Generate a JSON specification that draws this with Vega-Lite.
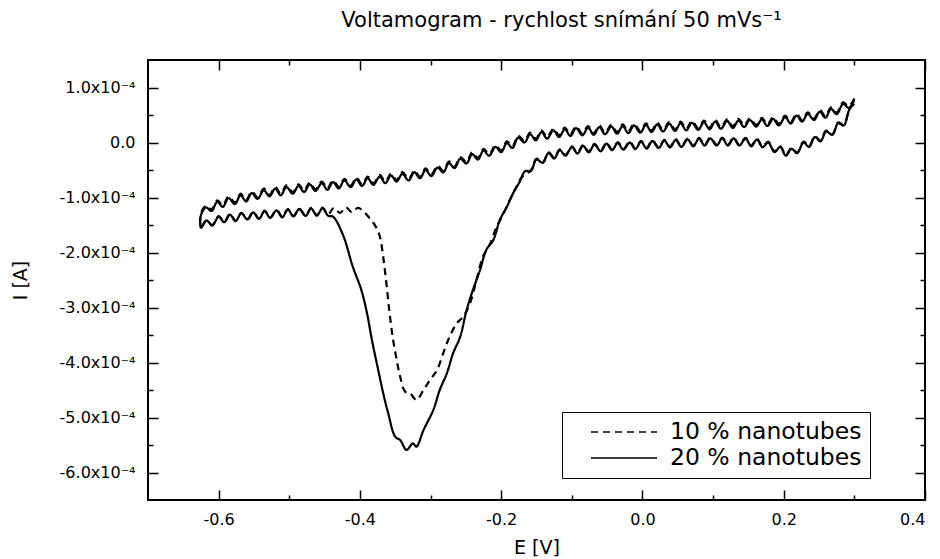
{
"$schema": "https://vega.github.io/schema/vega-lite/v6.json",
"width": 777, "height": 440,
"autosize": {"type": "none"},
"padding": {"left": 148, "top": 60, "right": 15, "bottom": 59},
"background": "white",
"config": {
 "view": {"stroke": "black", "strokeWidth": 2},
 "font": "DejaVu Sans",
 "axis": {"labelFont": "DejaVu Sans", "titleFont": "DejaVu Sans", "labelColor": "black", "titleColor": "black", "tickColor": "black", "tickWidth": 1.5, "grid": false, "domain": false, "labelFontSize": 16, "titleFontSize": 19, "titleFontWeight": "normal"}
},
"title": {"text": "Voltamogram - rychlost snímání 50 mVs⁻¹", "anchor": "middle", "dx": 25, "offset": 28, "fontSize": 21, "fontWeight": "normal", "font": "DejaVu Sans", "color": "black"},
"data": {"values": [
{"c":"20","k":0,"E":0.300,"I":0.77},{"c":"20","k":1,"E":0.292,"I":0.63},{"c":"20","k":2,"E":0.284,"I":0.70},{"c":"20","k":3,"E":0.275,"I":0.515},{"c":"20","k":4,"E":0.267,"I":0.61},{"c":"20","k":5,"E":0.259,"I":0.45},{"c":"20","k":6,"E":0.251,"I":0.56},{"c":"20","k":7,"E":0.243,"I":0.41},{"c":"20","k":8,"E":0.234,"I":0.52},{"c":"20","k":9,"E":0.226,"I":0.38},
{"c":"20","k":10,"E":0.218,"I":0.49},{"c":"20","k":11,"E":0.210,"I":0.345},{"c":"20","k":12,"E":0.202,"I":0.46},{"c":"20","k":13,"E":0.193,"I":0.31},{"c":"20","k":14,"E":0.185,"I":0.43},{"c":"20","k":15,"E":0.177,"I":0.30},{"c":"20","k":16,"E":0.169,"I":0.42},{"c":"20","k":17,"E":0.161,"I":0.29},{"c":"20","k":18,"E":0.152,"I":0.41},{"c":"20","k":19,"E":0.144,"I":0.28},
{"c":"20","k":20,"E":0.136,"I":0.40},{"c":"20","k":21,"E":0.128,"I":0.265},{"c":"20","k":22,"E":0.120,"I":0.39},{"c":"20","k":23,"E":0.111,"I":0.25},{"c":"20","k":24,"E":0.103,"I":0.38},{"c":"20","k":25,"E":0.095,"I":0.24},{"c":"20","k":26,"E":0.087,"I":0.37},{"c":"20","k":27,"E":0.079,"I":0.23},{"c":"20","k":28,"E":0.070,"I":0.36},{"c":"20","k":29,"E":0.062,"I":0.22},
{"c":"20","k":30,"E":0.054,"I":0.35},{"c":"20","k":31,"E":0.046,"I":0.21},{"c":"20","k":32,"E":0.038,"I":0.34},{"c":"20","k":33,"E":0.029,"I":0.20},{"c":"20","k":34,"E":0.021,"I":0.33},{"c":"20","k":35,"E":0.013,"I":0.19},{"c":"20","k":36,"E":0.005,"I":0.32},{"c":"20","k":37,"E":-0.003,"I":0.18},{"c":"20","k":38,"E":-0.012,"I":0.31},{"c":"20","k":39,"E":-0.020,"I":0.17},
{"c":"20","k":40,"E":-0.028,"I":0.30},{"c":"20","k":41,"E":-0.036,"I":0.16},{"c":"20","k":42,"E":-0.044,"I":0.29},{"c":"20","k":43,"E":-0.053,"I":0.15},{"c":"20","k":44,"E":-0.061,"I":0.28},{"c":"20","k":45,"E":-0.069,"I":0.14},{"c":"20","k":46,"E":-0.077,"I":0.27},{"c":"20","k":47,"E":-0.085,"I":0.13},{"c":"20","k":48,"E":-0.094,"I":0.26},{"c":"20","k":49,"E":-0.102,"I":0.12},
{"c":"20","k":50,"E":-0.110,"I":0.24},{"c":"20","k":51,"E":-0.118,"I":0.10},{"c":"20","k":52,"E":-0.126,"I":0.22},{"c":"20","k":53,"E":-0.135,"I":0.07},{"c":"20","k":54,"E":-0.143,"I":0.19},{"c":"20","k":55,"E":-0.151,"I":0.04},{"c":"20","k":56,"E":-0.159,"I":0.15},{"c":"20","k":57,"E":-0.167,"I":0.00},{"c":"20","k":58,"E":-0.176,"I":0.09},{"c":"20","k":59,"E":-0.184,"I":-0.10},
{"c":"20","k":60,"E":-0.192,"I":-0.01},{"c":"20","k":61,"E":-0.200,"I":-0.175},{"c":"20","k":62,"E":-0.208,"I":-0.08},{"c":"20","k":63,"E":-0.217,"I":-0.24},{"c":"20","k":64,"E":-0.225,"I":-0.145},{"c":"20","k":65,"E":-0.233,"I":-0.31},{"c":"20","k":66,"E":-0.241,"I":-0.21},{"c":"20","k":67,"E":-0.249,"I":-0.38},{"c":"20","k":68,"E":-0.258,"I":-0.295},{"c":"20","k":69,"E":-0.266,"I":-0.465},
{"c":"20","k":70,"E":-0.274,"I":-0.375},{"c":"20","k":71,"E":-0.282,"I":-0.545},{"c":"20","k":72,"E":-0.290,"I":-0.455},{"c":"20","k":73,"E":-0.299,"I":-0.61},{"c":"20","k":74,"E":-0.307,"I":-0.50},{"c":"20","k":75,"E":-0.315,"I":-0.65},{"c":"20","k":76,"E":-0.323,"I":-0.54},{"c":"20","k":77,"E":-0.331,"I":-0.69},{"c":"20","k":78,"E":-0.340,"I":-0.57},{"c":"20","k":79,"E":-0.348,"I":-0.71},
{"c":"20","k":80,"E":-0.356,"I":-0.60},{"c":"20","k":81,"E":-0.364,"I":-0.74},{"c":"20","k":82,"E":-0.372,"I":-0.62},{"c":"20","k":83,"E":-0.381,"I":-0.77},{"c":"20","k":84,"E":-0.389,"I":-0.65},{"c":"20","k":85,"E":-0.397,"I":-0.79},{"c":"20","k":86,"E":-0.405,"I":-0.67},{"c":"20","k":87,"E":-0.413,"I":-0.81},{"c":"20","k":88,"E":-0.422,"I":-0.69},{"c":"20","k":89,"E":-0.430,"I":-0.835},
{"c":"20","k":90,"E":-0.438,"I":-0.72},{"c":"20","k":91,"E":-0.446,"I":-0.86},{"c":"20","k":92,"E":-0.454,"I":-0.74},{"c":"20","k":93,"E":-0.463,"I":-0.88},{"c":"20","k":94,"E":-0.471,"I":-0.76},{"c":"20","k":95,"E":-0.479,"I":-0.90},{"c":"20","k":96,"E":-0.487,"I":-0.79},{"c":"20","k":97,"E":-0.495,"I":-0.93},{"c":"20","k":98,"E":-0.504,"I":-0.81},{"c":"20","k":99,"E":-0.512,"I":-0.96},
{"c":"20","k":100,"E":-0.520,"I":-0.84},{"c":"20","k":101,"E":-0.528,"I":-0.98},{"c":"20","k":102,"E":-0.536,"I":-0.87},{"c":"20","k":103,"E":-0.545,"I":-1.025},{"c":"20","k":104,"E":-0.553,"I":-0.92},{"c":"20","k":105,"E":-0.561,"I":-1.07},{"c":"20","k":106,"E":-0.569,"I":-0.96},{"c":"20","k":107,"E":-0.577,"I":-1.12},{"c":"20","k":108,"E":-0.586,"I":-1.01},{"c":"20","k":109,"E":-0.594,"I":-1.17},
{"c":"20","k":110,"E":-0.602,"I":-1.08},{"c":"20","k":111,"E":-0.610,"I":-1.245},{"c":"20","k":112,"E":-0.618,"I":-1.18},{"c":"20","k":113,"E":-0.625,"I":-1.32},
{"c":"20","k":114,"E":-0.625,"I":-1.55},{"c":"20","k":115,"E":-0.617,"I":-1.42},{"c":"20","k":116,"E":-0.609,"I":-1.51},{"c":"20","k":117,"E":-0.600,"I":-1.35},{"c":"20","k":118,"E":-0.592,"I":-1.45},{"c":"20","k":119,"E":-0.584,"I":-1.31},
{"c":"20","k":120,"E":-0.576,"I":-1.43},{"c":"20","k":121,"E":-0.568,"I":-1.29},{"c":"20","k":122,"E":-0.559,"I":-1.40},{"c":"20","k":123,"E":-0.551,"I":-1.27},{"c":"20","k":124,"E":-0.543,"I":-1.39},{"c":"20","k":125,"E":-0.535,"I":-1.25},{"c":"20","k":126,"E":-0.527,"I":-1.37},{"c":"20","k":127,"E":-0.518,"I":-1.235},{"c":"20","k":128,"E":-0.510,"I":-1.36},{"c":"20","k":129,"E":-0.502,"I":-1.22},
{"c":"20","k":130,"E":-0.494,"I":-1.345},{"c":"20","k":131,"E":-0.486,"I":-1.21},{"c":"20","k":132,"E":-0.477,"I":-1.335},{"c":"20","k":133,"E":-0.469,"I":-1.20},{"c":"20","k":134,"E":-0.461,"I":-1.33},{"c":"20","k":135,"E":-0.453,"I":-1.195},{"c":"20","k":136,"E":-0.445,"I":-1.33},
{"c":"20","k":137,"E":-0.438,"I":-1.35},{"c":"20","k":138,"E":-0.424,"I":-1.68},{"c":"20","k":139,"E":-0.410,"I":-2.26},{"c":"20","k":140,"E":-0.398,"I":-2.68},{"c":"20","k":141,"E":-0.390,"I":-3.10},{"c":"20","k":142,"E":-0.383,"I":-3.59},{"c":"20","k":143,"E":-0.374,"I":-4.14},{"c":"20","k":144,"E":-0.367,"I":-4.56},{"c":"20","k":145,"E":-0.360,"I":-4.92},{"c":"20","k":146,"E":-0.350,"I":-5.35},
{"c":"20","k":147,"E":-0.343,"I":-5.41},{"c":"20","k":148,"E":-0.334,"I":-5.59},{"c":"20","k":149,"E":-0.325,"I":-5.47},{"c":"20","k":150,"E":-0.320,"I":-5.53},{"c":"20","k":151,"E":-0.310,"I":-5.23},{"c":"20","k":152,"E":-0.296,"I":-4.86},{"c":"20","k":153,"E":-0.287,"I":-4.50},{"c":"20","k":154,"E":-0.277,"I":-4.20},{"c":"20","k":155,"E":-0.268,"I":-3.83},{"c":"20","k":156,"E":-0.258,"I":-3.53},
{"c":"20","k":157,"E":-0.249,"I":-3.05},{"c":"20","k":158,"E":-0.240,"I":-2.68},{"c":"20","k":159,"E":-0.230,"I":-2.32},{"c":"20","k":160,"E":-0.221,"I":-1.95},{"c":"20","k":161,"E":-0.211,"I":-1.77},{"c":"20","k":162,"E":-0.202,"I":-1.41},{"c":"20","k":163,"E":-0.192,"I":-1.17},{"c":"20","k":164,"E":-0.183,"I":-0.92},{"c":"20","k":165,"E":-0.174,"I":-0.72},
{"c":"20","k":166,"E":-0.166,"I":-0.52},{"c":"20","k":167,"E":-0.158,"I":-0.52},{"c":"20","k":168,"E":-0.150,"I":-0.31},{"c":"20","k":169,"E":-0.141,"I":-0.37},{"c":"20","k":170,"E":-0.133,"I":-0.19},{"c":"20","k":171,"E":-0.125,"I":-0.29},{"c":"20","k":172,"E":-0.117,"I":-0.14},{"c":"20","k":173,"E":-0.109,"I":-0.24},{"c":"20","k":174,"E":-0.100,"I":-0.085},{"c":"20","k":175,"E":-0.092,"I":-0.20},
{"c":"20","k":176,"E":-0.084,"I":-0.06},{"c":"20","k":177,"E":-0.076,"I":-0.18},{"c":"20","k":178,"E":-0.068,"I":-0.04},{"c":"20","k":179,"E":-0.059,"I":-0.16},{"c":"20","k":180,"E":-0.051,"I":-0.02},{"c":"20","k":181,"E":-0.043,"I":-0.14},{"c":"20","k":182,"E":-0.035,"I":-0.01},{"c":"20","k":183,"E":-0.027,"I":-0.13},{"c":"20","k":184,"E":-0.018,"I":0.00},{"c":"20","k":185,"E":-0.010,"I":-0.12},
{"c":"20","k":186,"E":-0.002,"I":0.015},{"c":"20","k":187,"E":0.006,"I":-0.11},{"c":"20","k":188,"E":0.014,"I":0.025},{"c":"20","k":189,"E":0.023,"I":-0.10},{"c":"20","k":190,"E":0.031,"I":0.035},{"c":"20","k":191,"E":0.039,"I":-0.09},{"c":"20","k":192,"E":0.047,"I":0.045},{"c":"20","k":193,"E":0.055,"I":-0.08},{"c":"20","k":194,"E":0.064,"I":0.055},{"c":"20","k":195,"E":0.072,"I":-0.07},
{"c":"20","k":196,"E":0.080,"I":0.07},{"c":"20","k":197,"E":0.088,"I":-0.055},{"c":"20","k":198,"E":0.096,"I":0.075},{"c":"20","k":199,"E":0.105,"I":-0.055},{"c":"20","k":200,"E":0.113,"I":0.075},{"c":"20","k":201,"E":0.121,"I":-0.055},{"c":"20","k":202,"E":0.129,"I":0.075},{"c":"20","k":203,"E":0.137,"I":-0.055},{"c":"20","k":204,"E":0.146,"I":0.07},{"c":"20","k":205,"E":0.154,"I":-0.07},
{"c":"20","k":206,"E":0.162,"I":0.055},{"c":"20","k":207,"E":0.170,"I":-0.085},{"c":"20","k":208,"E":0.178,"I":0.00},{"c":"20","k":209,"E":0.187,"I":-0.175},{"c":"20","k":210,"E":0.195,"I":-0.08},{"c":"20","k":211,"E":0.203,"I":-0.24},{"c":"20","k":212,"E":0.211,"I":-0.115},{"c":"20","k":213,"E":0.219,"I":-0.195},{"c":"20","k":214,"E":0.228,"I":0.00},{"c":"20","k":215,"E":0.236,"I":-0.08},
{"c":"20","k":216,"E":0.244,"I":0.10},{"c":"20","k":217,"E":0.252,"I":0.02},{"c":"20","k":218,"E":0.260,"I":0.20},{"c":"20","k":219,"E":0.269,"I":0.14},{"c":"20","k":220,"E":0.277,"I":0.35},{"c":"20","k":221,"E":0.285,"I":0.31},{"c":"20","k":222,"E":0.293,"I":0.60},{"c":"20","k":223,"E":0.300,"I":0.70},

{"c":"10","k":0,"E":0.300,"I":0.80},{"c":"10","k":1,"E":0.292,"I":0.66},{"c":"10","k":2,"E":0.284,"I":0.73},{"c":"10","k":3,"E":0.275,"I":0.545},{"c":"10","k":4,"E":0.267,"I":0.64},{"c":"10","k":5,"E":0.259,"I":0.48},{"c":"10","k":6,"E":0.251,"I":0.59},{"c":"10","k":7,"E":0.243,"I":0.44},{"c":"10","k":8,"E":0.234,"I":0.55},{"c":"10","k":9,"E":0.226,"I":0.41},
{"c":"10","k":10,"E":0.218,"I":0.52},{"c":"10","k":11,"E":0.210,"I":0.375},{"c":"10","k":12,"E":0.202,"I":0.49},{"c":"10","k":13,"E":0.193,"I":0.34},{"c":"10","k":14,"E":0.185,"I":0.46},{"c":"10","k":15,"E":0.177,"I":0.33},{"c":"10","k":16,"E":0.169,"I":0.45},{"c":"10","k":17,"E":0.161,"I":0.32},{"c":"10","k":18,"E":0.152,"I":0.44},{"c":"10","k":19,"E":0.144,"I":0.31},
{"c":"10","k":20,"E":0.136,"I":0.43},{"c":"10","k":21,"E":0.128,"I":0.295},{"c":"10","k":22,"E":0.120,"I":0.42},{"c":"10","k":23,"E":0.111,"I":0.28},{"c":"10","k":24,"E":0.103,"I":0.41},{"c":"10","k":25,"E":0.095,"I":0.27},{"c":"10","k":26,"E":0.087,"I":0.40},{"c":"10","k":27,"E":0.079,"I":0.26},{"c":"10","k":28,"E":0.070,"I":0.39},{"c":"10","k":29,"E":0.062,"I":0.25},
{"c":"10","k":30,"E":0.054,"I":0.38},{"c":"10","k":31,"E":0.046,"I":0.24},{"c":"10","k":32,"E":0.038,"I":0.37},{"c":"10","k":33,"E":0.029,"I":0.23},{"c":"10","k":34,"E":0.021,"I":0.36},{"c":"10","k":35,"E":0.013,"I":0.22},{"c":"10","k":36,"E":0.005,"I":0.35},{"c":"10","k":37,"E":-0.003,"I":0.21},{"c":"10","k":38,"E":-0.012,"I":0.34},{"c":"10","k":39,"E":-0.020,"I":0.20},
{"c":"10","k":40,"E":-0.028,"I":0.33},{"c":"10","k":41,"E":-0.036,"I":0.19},{"c":"10","k":42,"E":-0.044,"I":0.32},{"c":"10","k":43,"E":-0.053,"I":0.18},{"c":"10","k":44,"E":-0.061,"I":0.31},{"c":"10","k":45,"E":-0.069,"I":0.17},{"c":"10","k":46,"E":-0.077,"I":0.30},{"c":"10","k":47,"E":-0.085,"I":0.16},{"c":"10","k":48,"E":-0.094,"I":0.29},{"c":"10","k":49,"E":-0.102,"I":0.15},
{"c":"10","k":50,"E":-0.110,"I":0.27},{"c":"10","k":51,"E":-0.118,"I":0.13},{"c":"10","k":52,"E":-0.126,"I":0.25},{"c":"10","k":53,"E":-0.135,"I":0.10},{"c":"10","k":54,"E":-0.143,"I":0.22},{"c":"10","k":55,"E":-0.151,"I":0.07},{"c":"10","k":56,"E":-0.159,"I":0.18},{"c":"10","k":57,"E":-0.167,"I":0.03},{"c":"10","k":58,"E":-0.176,"I":0.12},{"c":"10","k":59,"E":-0.184,"I":-0.07},
{"c":"10","k":60,"E":-0.192,"I":0.02},{"c":"10","k":61,"E":-0.200,"I":-0.145},{"c":"10","k":62,"E":-0.208,"I":-0.05},{"c":"10","k":63,"E":-0.217,"I":-0.21},{"c":"10","k":64,"E":-0.225,"I":-0.115},{"c":"10","k":65,"E":-0.233,"I":-0.28},{"c":"10","k":66,"E":-0.241,"I":-0.18},{"c":"10","k":67,"E":-0.249,"I":-0.35},{"c":"10","k":68,"E":-0.258,"I":-0.265},{"c":"10","k":69,"E":-0.266,"I":-0.435},
{"c":"10","k":70,"E":-0.274,"I":-0.345},{"c":"10","k":71,"E":-0.282,"I":-0.515},{"c":"10","k":72,"E":-0.290,"I":-0.425},{"c":"10","k":73,"E":-0.299,"I":-0.58},{"c":"10","k":74,"E":-0.307,"I":-0.47},{"c":"10","k":75,"E":-0.315,"I":-0.62},{"c":"10","k":76,"E":-0.323,"I":-0.51},{"c":"10","k":77,"E":-0.331,"I":-0.66},{"c":"10","k":78,"E":-0.340,"I":-0.54},{"c":"10","k":79,"E":-0.348,"I":-0.68},
{"c":"10","k":80,"E":-0.356,"I":-0.57},{"c":"10","k":81,"E":-0.364,"I":-0.71},{"c":"10","k":82,"E":-0.372,"I":-0.59},{"c":"10","k":83,"E":-0.381,"I":-0.74},{"c":"10","k":84,"E":-0.389,"I":-0.62},{"c":"10","k":85,"E":-0.397,"I":-0.76},{"c":"10","k":86,"E":-0.405,"I":-0.64},{"c":"10","k":87,"E":-0.413,"I":-0.78},{"c":"10","k":88,"E":-0.422,"I":-0.66},{"c":"10","k":89,"E":-0.430,"I":-0.805},
{"c":"10","k":90,"E":-0.438,"I":-0.69},{"c":"10","k":91,"E":-0.446,"I":-0.83},{"c":"10","k":92,"E":-0.454,"I":-0.71},{"c":"10","k":93,"E":-0.463,"I":-0.85},{"c":"10","k":94,"E":-0.471,"I":-0.73},{"c":"10","k":95,"E":-0.479,"I":-0.87},{"c":"10","k":96,"E":-0.487,"I":-0.76},{"c":"10","k":97,"E":-0.495,"I":-0.90},{"c":"10","k":98,"E":-0.504,"I":-0.78},{"c":"10","k":99,"E":-0.512,"I":-0.93},
{"c":"10","k":100,"E":-0.520,"I":-0.81},{"c":"10","k":101,"E":-0.528,"I":-0.95},{"c":"10","k":102,"E":-0.536,"I":-0.84},{"c":"10","k":103,"E":-0.545,"I":-0.995},{"c":"10","k":104,"E":-0.553,"I":-0.89},{"c":"10","k":105,"E":-0.561,"I":-1.04},{"c":"10","k":106,"E":-0.569,"I":-0.93},{"c":"10","k":107,"E":-0.577,"I":-1.09},{"c":"10","k":108,"E":-0.586,"I":-0.98},{"c":"10","k":109,"E":-0.594,"I":-1.14},
{"c":"10","k":110,"E":-0.602,"I":-1.05},{"c":"10","k":111,"E":-0.610,"I":-1.215},{"c":"10","k":112,"E":-0.618,"I":-1.15},{"c":"10","k":113,"E":-0.625,"I":-1.29},
{"c":"10","k":114,"E":-0.625,"I":-1.54},{"c":"10","k":115,"E":-0.617,"I":-1.41},{"c":"10","k":116,"E":-0.609,"I":-1.50},{"c":"10","k":117,"E":-0.600,"I":-1.34},{"c":"10","k":118,"E":-0.592,"I":-1.44},{"c":"10","k":119,"E":-0.584,"I":-1.30},
{"c":"10","k":120,"E":-0.576,"I":-1.42},{"c":"10","k":121,"E":-0.568,"I":-1.28},{"c":"10","k":122,"E":-0.559,"I":-1.39},{"c":"10","k":123,"E":-0.551,"I":-1.26},{"c":"10","k":124,"E":-0.543,"I":-1.38},{"c":"10","k":125,"E":-0.535,"I":-1.24},{"c":"10","k":126,"E":-0.527,"I":-1.36},{"c":"10","k":127,"E":-0.518,"I":-1.225},{"c":"10","k":128,"E":-0.510,"I":-1.35},{"c":"10","k":129,"E":-0.502,"I":-1.21},
{"c":"10","k":130,"E":-0.494,"I":-1.335},{"c":"10","k":131,"E":-0.486,"I":-1.20},{"c":"10","k":132,"E":-0.477,"I":-1.325},{"c":"10","k":133,"E":-0.469,"I":-1.19},{"c":"10","k":134,"E":-0.461,"I":-1.32},{"c":"10","k":135,"E":-0.453,"I":-1.185},{"c":"10","k":136,"E":-0.445,"I":-1.31},{"c":"10","k":137,"E":-0.437,"I":-1.19},{"c":"10","k":138,"E":-0.428,"I":-1.28},{"c":"10","k":139,"E":-0.420,"I":-1.18},
{"c":"10","k":140,"E":-0.411,"I":-1.27},{"c":"10","k":141,"E":-0.403,"I":-1.19},{"c":"10","k":142,"E":-0.395,"I":-1.25},{"c":"10","k":143,"E":-0.386,"I":-1.38},{"c":"10","k":144,"E":-0.378,"I":-1.52},{"c":"10","k":145,"E":-0.372,"I":-1.70},{"c":"10","k":146,"E":-0.367,"I":-2.08},{"c":"10","k":147,"E":-0.362,"I":-2.62},{"c":"10","k":148,"E":-0.358,"I":-3.10},{"c":"10","k":149,"E":-0.353,"I":-3.59},
{"c":"10","k":150,"E":-0.348,"I":-3.95},{"c":"10","k":151,"E":-0.343,"I":-4.26},{"c":"10","k":152,"E":-0.336,"I":-4.53},{"c":"10","k":153,"E":-0.329,"I":-4.56},{"c":"10","k":154,"E":-0.320,"I":-4.68},{"c":"10","k":155,"E":-0.310,"I":-4.50},{"c":"10","k":156,"E":-0.301,"I":-4.32},{"c":"10","k":157,"E":-0.291,"I":-4.14},{"c":"10","k":158,"E":-0.282,"I":-3.83},{"c":"10","k":159,"E":-0.273,"I":-3.53},
{"c":"10","k":160,"E":-0.263,"I":-3.29},{"c":"10","k":161,"E":-0.254,"I":-3.17},{"c":"10","k":162,"E":-0.244,"I":-2.92},{"c":"10","k":163,"E":-0.235,"I":-2.50},{"c":"10","k":164,"E":-0.226,"I":-2.08},{"c":"10","k":165,"E":-0.216,"I":-1.85},{"c":"10","k":166,"E":-0.207,"I":-1.55},{"c":"10","k":167,"E":-0.197,"I":-1.30},{"c":"10","k":168,"E":-0.188,"I":-1.05},{"c":"10","k":169,"E":-0.179,"I":-0.82},
{"c":"10","k":170,"E":-0.170,"I":-0.62},{"c":"10","k":171,"E":-0.158,"I":-0.505},{"c":"10","k":172,"E":-0.150,"I":-0.295},{"c":"10","k":173,"E":-0.141,"I":-0.355},{"c":"10","k":174,"E":-0.133,"I":-0.175},{"c":"10","k":175,"E":-0.125,"I":-0.275},{"c":"10","k":176,"E":-0.117,"I":-0.125},{"c":"10","k":177,"E":-0.109,"I":-0.225},{"c":"10","k":178,"E":-0.100,"I":-0.07},{"c":"10","k":179,"E":-0.092,"I":-0.185},
{"c":"10","k":180,"E":-0.084,"I":-0.045},{"c":"10","k":181,"E":-0.076,"I":-0.165},{"c":"10","k":182,"E":-0.068,"I":-0.025},{"c":"10","k":183,"E":-0.059,"I":-0.145},{"c":"10","k":184,"E":-0.051,"I":-0.005},{"c":"10","k":185,"E":-0.043,"I":-0.125},{"c":"10","k":186,"E":-0.035,"I":0.005},{"c":"10","k":187,"E":-0.027,"I":-0.115},{"c":"10","k":188,"E":-0.018,"I":0.015},{"c":"10","k":189,"E":-0.010,"I":-0.105},
{"c":"10","k":190,"E":-0.002,"I":0.03},{"c":"10","k":191,"E":0.006,"I":-0.095},{"c":"10","k":192,"E":0.014,"I":0.04},{"c":"10","k":193,"E":0.023,"I":-0.085},{"c":"10","k":194,"E":0.031,"I":0.05},{"c":"10","k":195,"E":0.039,"I":-0.075},{"c":"10","k":196,"E":0.047,"I":0.06},{"c":"10","k":197,"E":0.055,"I":-0.065},{"c":"10","k":198,"E":0.064,"I":0.07},{"c":"10","k":199,"E":0.072,"I":-0.055},
{"c":"10","k":200,"E":0.080,"I":0.085},{"c":"10","k":201,"E":0.088,"I":-0.04},{"c":"10","k":202,"E":0.096,"I":0.09},{"c":"10","k":203,"E":0.105,"I":-0.04},{"c":"10","k":204,"E":0.113,"I":0.09},{"c":"10","k":205,"E":0.121,"I":-0.04},{"c":"10","k":206,"E":0.129,"I":0.09},{"c":"10","k":207,"E":0.137,"I":-0.04},{"c":"10","k":208,"E":0.146,"I":0.085},{"c":"10","k":209,"E":0.154,"I":-0.055},
{"c":"10","k":210,"E":0.162,"I":0.07},{"c":"10","k":211,"E":0.170,"I":-0.07},{"c":"10","k":212,"E":0.178,"I":0.015},{"c":"10","k":213,"E":0.187,"I":-0.16},{"c":"10","k":214,"E":0.195,"I":-0.065},{"c":"10","k":215,"E":0.203,"I":-0.225},{"c":"10","k":216,"E":0.211,"I":-0.10},{"c":"10","k":217,"E":0.219,"I":-0.18},{"c":"10","k":218,"E":0.228,"I":0.015},{"c":"10","k":219,"E":0.236,"I":-0.065},
{"c":"10","k":220,"E":0.244,"I":0.115},{"c":"10","k":221,"E":0.252,"I":0.035},{"c":"10","k":222,"E":0.260,"I":0.215},{"c":"10","k":223,"E":0.269,"I":0.155},{"c":"10","k":224,"E":0.277,"I":0.365},{"c":"10","k":225,"E":0.285,"I":0.325},{"c":"10","k":226,"E":0.293,"I":0.615},{"c":"10","k":227,"E":0.300,"I":0.72}
]},
"layer": [
 {
  "mark": {"type": "line", "color": "black", "strokeWidth": 2.2, "interpolate": "catmull-rom"},
  "encoding": {
   "x": {"field": "E", "type": "quantitative", "scale": {"domain": [-0.7, 0.4], "nice": false, "zero": false},
     "axis": {"orient": "bottom", "offset": -10, "tickSize": 10, "values": [-0.6,-0.4,-0.2,0,0.2,0.4],
       "labelExpr": "(datum.value<-0.001 ? '-' : '') + format(abs(datum.value),'.1f')",
       "labelPadding": 11, "title": "E [V]", "titleY": 63, "titleBaseline": "alphabetic"}},
   "y": {"field": "I", "type": "quantitative", "scale": {"domain": [-6.5, 1.5], "nice": false, "zero": false},
     "axis": {"orient": "left", "offset": -10, "tickSize": 10, "values": [-6,-5,-4,-3,-2,-1,0,1],
       "labelExpr": "datum.value==0 ? '0.0' : (datum.value<0 ? '-' : '') + format(abs(datum.value),'.1f') + 'x10⁻⁴'",
       "labelPadding": 13, "title": "I [A]", "titleX": -138, "titleBaseline": "middle"}},
   "order": {"field": "k", "type": "quantitative"},
   "strokeDash": {"field": "c", "type": "nominal", "scale": {"domain": ["10", "20"], "range": [[7, 5], [1, 0]]},
     "legend": {"orient": "none", "legendX": 414, "legendY": 352, "title": null, "labelExpr": "datum.label + ' % nanotubes'",
       "symbolType": "M-3,0H3", "symbolSize": 484, "symbolOffset": 42, "symbolStrokeWidth": 1.5, "symbolStrokeColor": "black",
       "labelFontSize": 23.5, "labelFont": "DejaVu Sans", "labelColor": "black", "labelOffset": 34, "labelLimit": 400,
       "strokeColor": "black", "fillColor": "white", "padding": 8, "rowPadding": 2}}
  }
 },
 {
  "mark": {"type": "point", "opacity": 0},
  "encoding": {
   "x": {"field": "E", "type": "quantitative", "scale": {"domain": [-0.7, 0.4], "nice": false, "zero": false},
     "axis": {"orient": "top", "offset": -10, "tickSize": 10, "values": [-0.6,-0.4,-0.2,0,0.2,0.4], "labels": false, "title": null}},
   "y": {"field": "I", "type": "quantitative", "scale": {"domain": [-6.5, 1.5], "nice": false, "zero": false},
     "axis": {"orient": "right", "offset": -10, "tickSize": 10, "values": [-6,-5,-4,-3,-2,-1,0,1], "labels": false, "title": null}}
  }
 },
 {
  "mark": {"type": "point", "opacity": 0},
  "encoding": {
   "x": {"field": "E", "type": "quantitative", "scale": {"domain": [-0.7, 0.4], "nice": false, "zero": false},
     "axis": {"orient": "bottom", "offset": -5, "tickSize": 5, "values": [-0.5,-0.3,-0.1,0.1,0.3], "labels": false, "title": null}},
   "y": {"field": "I", "type": "quantitative", "scale": {"domain": [-6.5, 1.5], "nice": false, "zero": false},
     "axis": {"orient": "left", "offset": -5, "tickSize": 5, "values": [-5.5,-4.5,-3.5,-2.5,-1.5,-0.5,0.5], "labels": false, "title": null}}
  }
 },
 {
  "mark": {"type": "point", "opacity": 0},
  "encoding": {
   "x": {"field": "E", "type": "quantitative", "scale": {"domain": [-0.7, 0.4], "nice": false, "zero": false},
     "axis": {"orient": "top", "offset": -5, "tickSize": 5, "values": [-0.5,-0.3,-0.1,0.1,0.3], "labels": false, "title": null}},
   "y": {"field": "I", "type": "quantitative", "scale": {"domain": [-6.5, 1.5], "nice": false, "zero": false},
     "axis": {"orient": "right", "offset": -5, "tickSize": 5, "values": [-5.5,-4.5,-3.5,-2.5,-1.5,-0.5,0.5], "labels": false, "title": null}}
  }
 }
],
"resolve": {"axis": {"x": "independent", "y": "independent"}}
}
